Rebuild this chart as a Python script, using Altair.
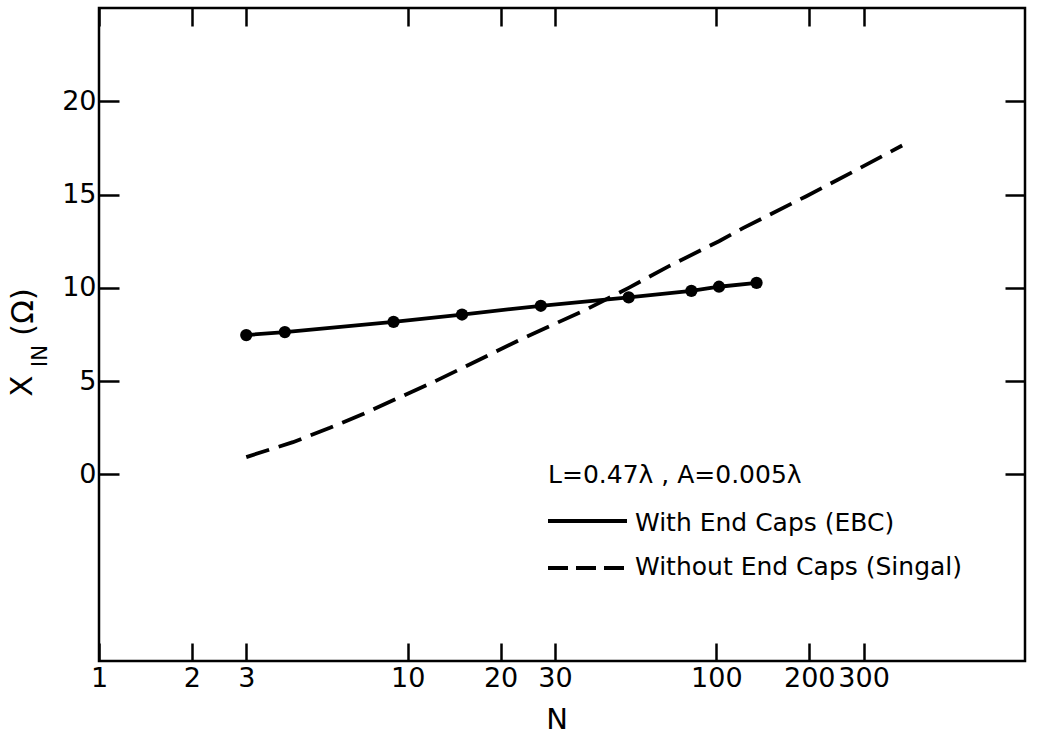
import altair as alt
import pandas as pd

# ---- data ----
ebc_n = [3, 4, 9, 15, 27, 52, 83, 102, 135]
ebc_x = [7.47, 7.63, 8.18, 8.57, 9.04, 9.49, 9.84, 10.06, 10.27]

singal_n = [3.0, 4.25, 5.6, 7.2, 9.2, 11.8, 15.1, 23, 38, 52, 70, 102, 122, 195, 283, 400]
singal_x = [0.93, 1.73, 2.5, 3.25, 4.06, 4.86, 5.72, 7.2, 8.85, 10.0, 11.15, 12.5, 13.2, 14.9, 16.3, 17.63]

x_ticks = [1, 2, 3, 10, 20, 30, 100, 200, 300]
y_ticks = [0, 5, 10, 15, 20]

legend_header = "L=0.47λ , A=0.005λ"
legend_labels = ["With End Caps (EBC)", "Without End Caps (Singal)"]
x_title = "N"
y_title_parts = ["X", "IN", "(Ω)"]

FONT = "DejaVu Sans"
W, H = 926, 653
LW = 3.8

ebc_df = pd.DataFrame({"N": ebc_n, "X": ebc_x})
sing_df = pd.DataFrame({"N": singal_n, "X": singal_x})
one = pd.DataFrame({"a": [0]})

xs = alt.Scale(type="log", domain=[1, 1000], nice=False)
ys = alt.Scale(domain=[-10, 25], nice=False, zero=False)

common_axis = dict(domain=False, grid=False, tickColor="black", tickWidth=2.5,
                   labelFont=FONT, labelFontSize=27, labelColor="black")

ax_bottom = alt.Axis(orient="bottom", values=x_ticks, format="d", offset=-18, tickSize=18,
                     labelPadding=4, labelFlush=False, title=None, **common_axis)
ax_left = alt.Axis(orient="left", values=y_ticks, format="d", offset=-20, tickSize=20,
                   labelPadding=3, title=None, **common_axis)
ax_top = alt.Axis(orient="top", values=x_ticks, offset=-18, tickSize=18, labels=False,
                  title=None, domain=False, grid=False, tickColor="black", tickWidth=2.5)
ax_right = alt.Axis(orient="right", values=y_ticks, offset=-20, tickSize=20, labels=False,
                    title=None, domain=False, grid=False, tickColor="black", tickWidth=2.5)

singal_line = alt.Chart(sing_df).mark_line(color="black", strokeWidth=LW, strokeDash=[24, 10]).encode(
    x=alt.X("N:Q", scale=xs, axis=ax_bottom),
    y=alt.Y("X:Q", scale=ys, axis=ax_left),
)
frame_axes = alt.Chart(sing_df).mark_line(opacity=0).encode(
    x=alt.X("N:Q", scale=xs, axis=ax_top),
    y=alt.Y("X:Q", scale=ys, axis=ax_right),
)
ebc_line = alt.Chart(ebc_df).mark_line(color="black", strokeWidth=LW).encode(
    x=alt.X("N:Q", scale=xs, axis=None),
    y=alt.Y("X:Q", scale=ys, axis=None),
)
ebc_pts = alt.Chart(ebc_df).mark_circle(color="black", size=150, opacity=1).encode(
    x=alt.X("N:Q", scale=xs, axis=None),
    y=alt.Y("X:Q", scale=ys, axis=None),
)

def txt(s, x, y, size, align="left", angle=0):
    kw = dict(text=s, font=FONT, fontSize=size, color="black", align=align, baseline="middle")
    if angle:
        kw["angle"] = angle
    return alt.Chart(one).mark_text(**kw).encode(x=alt.value(x), y=alt.value(y))

# plot origin is at (99, 8) in page pixels
texts = [
    txt(legend_header, 449, 467, 25),
    txt(legend_labels[0], 536, 515, 25),
    txt(legend_labels[1], 536, 559, 25),
    txt(x_title, 458, 712, 29, align="center"),
    txt(y_title_parts[0], -76, 378, 31, align="center", angle=270),
    txt(y_title_parts[1], -58, 348, 21, align="center", angle=270),
    txt(y_title_parts[2], -75, 304, 31, align="center", angle=270),
]

leg_solid = alt.Chart(one).mark_rule(color="black", strokeWidth=LW).encode(
    x=alt.value(449), x2=alt.value(528), y=alt.value(513))
leg_dash = alt.Chart(one).mark_rule(color="black", strokeWidth=LW, strokeDash=[20, 8]).encode(
    x=alt.value(449), x2=alt.value(525), y=alt.value(560))

chart = alt.layer(
    singal_line, frame_axes, ebc_line, ebc_pts, leg_solid, leg_dash, *texts
).resolve_axis(x="independent", y="independent").properties(
    width=W, height=H,
    autosize=alt.AutoSizeParams(type="none"),
    padding={"left": 99, "top": 8, "right": 12, "bottom": 81},
    background="white",
).configure_view(stroke="black", strokeWidth=2.5)

chart.save("out.html", embed_options={"renderer": "svg", "actions": False})
